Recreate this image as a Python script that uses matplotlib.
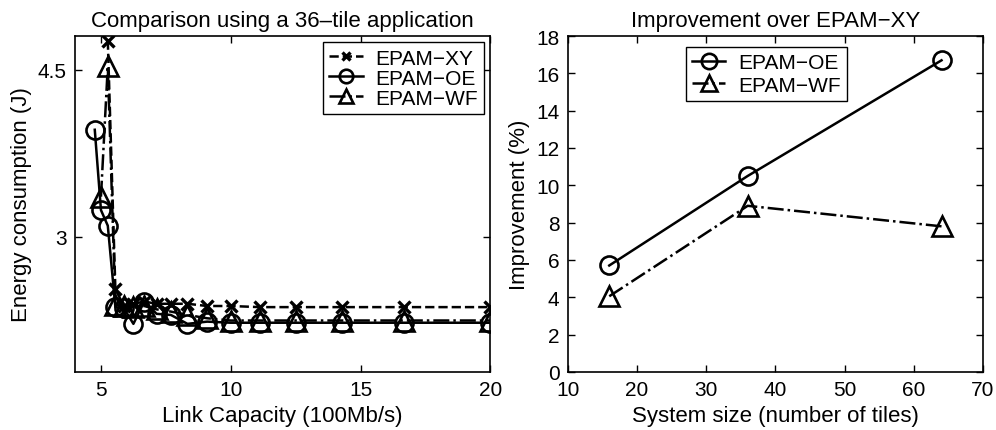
import matplotlib
matplotlib.use("Agg")
import matplotlib.pyplot as plt
import numpy as np

plt.rcParams['font.family'] = ['Liberation Sans', 'DejaVu Sans']

# left panel: link capacity (100Mb/s) vs energy (J)
cap = [100/21, 100/20, 100/19, 100/18, 100/17, 100/16, 100/15, 100/14, 100/13,
       100/12, 100/11, 100/10, 100/9, 100/8, 100/7, 100/6, 100/5]
xy_cap = cap[2:]
xy_energy = [4.76, 2.53, 2.38, 2.40, 2.42, 2.40, 2.40, 2.40, 2.38, 2.38,
             2.37, 2.37, 2.37, 2.37, 2.37]
oe_energy = [3.96, 3.24, 3.10, 2.37, 2.36, 2.22, 2.42, 2.31, 2.30, 2.22, 2.24,
             2.23, 2.23, 2.23, 2.23, 2.23, 2.23]
wf_cap = cap[1:]
wf_energy = [3.36, 4.53, 2.39, 2.38, 2.37, 2.38, 2.35, 2.33, 2.30, 2.27,
             2.25, 2.25, 2.25, 2.25, 2.25, 2.25]

# right panel: system size vs improvement over EPAM-XY
tiles = [16, 36, 64]
oe_impr = [5.7, 10.5, 16.7]
wf_impr = [4.05, 8.9, 7.8]

fig = plt.figure(figsize=(9.96, 4.31), dpi=100)
ax1 = fig.add_axes([0.0753, 0.135, 0.417, 0.779])
ax2 = fig.add_axes([0.570, 0.135, 0.417, 0.779])

lw = 1.8
mew = 1.9
ax1.plot(xy_cap, xy_energy, 'k--x', lw=lw, ms=8, mew=2.4, label='EPAM\u2212XY')
ax1.plot(cap, oe_energy, 'k-o', lw=lw, ms=13, mew=mew, mfc='none', label='EPAM\u2212OE')
ax1.plot(wf_cap, wf_energy, 'k-.^', lw=lw, ms=14, mew=mew, mfc='none', label='EPAM\u2212WF')
ax1.set_xlim(4, 20)
ax1.set_ylim(1.79, 4.8)
ax1.set_xticks([5, 10, 15, 20])
ax1.set_yticks([3, 4.5])
ax1.set_yticklabels(['3', '4.5'])
ax1.set_xlabel('Link Capacity (100Mb/s)', fontsize=16)
ax1.set_ylabel('Energy consumption (J)', fontsize=16)
ax1.set_title('Comparison using a 36\u2013tile application', fontsize=16, pad=7)
ax1.legend(loc='upper right', fontsize=15, fancybox=False, edgecolor='k',
           handlelength=1.6, handletextpad=0.6, borderaxespad=0.3,
           labelspacing=0.05, borderpad=0.3, framealpha=1, markerscale=0.75)

ax2.plot(tiles, oe_impr, 'k-o', lw=lw, ms=13, mew=mew, mfc='none', label='EPAM\u2212OE')
ax2.plot(tiles, wf_impr, 'k-.^', lw=lw, ms=14, mew=mew, mfc='none', label='EPAM\u2212WF')
ax2.set_xlim(10, 70)
ax2.set_ylim(0, 18)
ax2.set_xticks(np.arange(10, 71, 10))
ax2.set_yticks(np.arange(0, 19, 2))
ax2.set_xlabel('System size (number of tiles)', fontsize=16)
ax2.set_ylabel('Improvement (%)', fontsize=16)
ax2.set_title('Improvement over EPAM\u2212XY', fontsize=16, pad=7)
ax2.legend(loc='upper left', bbox_to_anchor=(0.284, 0.967), borderaxespad=0,
           fontsize=15, fancybox=False, edgecolor='k', handlelength=1.6,
           handletextpad=0.6, labelspacing=0.15, borderpad=0.3, framealpha=1,
           markerscale=0.85)

for ax in (ax1, ax2):
    ax.tick_params(direction='in', top=True, right=True, labelsize=15,
                   length=5, width=1, pad=6)
    for s in ax.spines.values():
        s.set_linewidth(1.2)

fig.savefig('out.png', dpi=100)
